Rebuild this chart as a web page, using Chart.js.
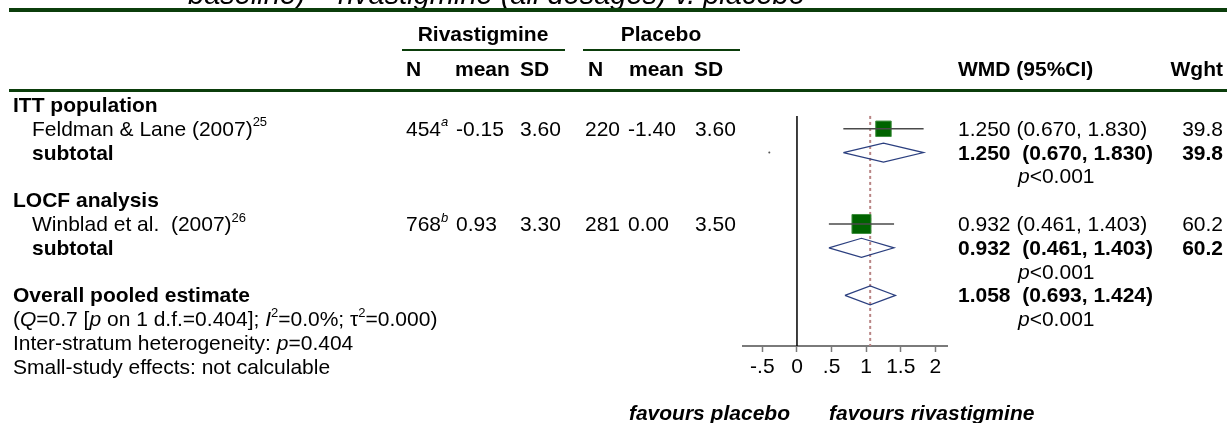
<!DOCTYPE html>
<html>
<head>
<meta charset="utf-8">
<script src="https://cdn.jsdelivr.net/npm/chart.js@4.4.1/dist/chart.umd.min.js"></script>
<style>
  html, body { margin: 0; padding: 0; background: #fff; }
  canvas { display: block; }
</style>
</head>
<body>
<canvas id="forestChart" width="1227" height="423"></canvas>
<script>
// --- data ---
const groups = ['ITT population', 'LOCF analysis'];
const studies = ['Feldman & Lane (2007)', 'Winblad et al.  (2007)'];
const studyRefs = ['25', '26'];
const rivN = ['454', '768'];
const rivNotes = ['a', 'b'];
const rivMean = ['-0.15', '0.93'];
const rivSD = ['3.60', '3.30'];
const plaN = ['220', '281'];
const plaMean = ['-1.40', '0.00'];
const plaSD = ['3.60', '3.50'];
const wmd = [1.250, 0.932];
const wmdLow = [0.670, 0.461];
const wmdHigh = [1.830, 1.403];
const weights = [39.8, 60.2];
const subWmd = [1.250, 0.932];
const subLow = [0.670, 0.461];
const subHigh = [1.830, 1.403];
const pooled = [1.058, 0.693, 1.424]; // estimate, low, high
const strayDot = [-0.40]; // tiny stray marker on the first subtotal row
const xTicks = [-0.5, 0, 0.5, 1, 1.5, 2];
const xTickLabels = ['-.5', '0', '.5', '1', '1.5', '2'];

// row layout (row index down the table)
const groupRows = [0, 4];
const studyRows = [1, 5];
const subRows = [2, 6];
const pRows = [3, 7];
const pooledRow = 8;

const FONT = "'Liberation Sans', Arial, sans-serif";
const FS = 21;
const GREEN = '#0b3d0b';

document.addEventListener('DOMContentLoaded', () => {
  const ctx = document.getElementById('forestChart').getContext('2d');

  const fontFor = (style, size) => {
    const px = style.includes('s') ? Math.round(size * 0.6) : size;
    return `${style.includes('i') ? 'italic ' : ''}${style.includes('b') ? 'bold ' : ''}${px}px ${FONT}`;
  };

  // runs: [[text, style]] style letters: b bold, i italic, s superscript
  const drawRuns = (c, x, y, runs, align = 'left', size = FS) => {
    const widths = runs.map(([t, st = '']) => { c.font = fontFor(st, size); return c.measureText(t).width; });
    const total = widths.reduce((a, b) => a + b, 0);
    let cx = align === 'right' ? x - total : align === 'center' ? x - total / 2 : x;
    runs.forEach(([t, st = ''], i) => {
      c.font = fontFor(st, size);
      c.fillText(t, cx, st.includes('s') ? y - size * 0.45 : y);
      cx += widths[i];
    });
  };

  const fmt = v => v.toFixed(3);
  const diamond = (est, lo, hi, row) => [
    { x: lo, y: row }, { x: est, y: row - 0.4 }, { x: hi, y: row },
    { x: est, y: row + 0.4 }, { x: lo, y: row }
  ];
  const lineSet = (data, color, width, dash = []) => ({
    data, showLine: true, borderColor: color, borderWidth: width, borderDash: dash,
    pointRadius: 0, pointHoverRadius: 0, fill: false
  });

  const tablePlugin = {
    id: 'tableText',
    afterDraw(chart) {
      const c = chart.ctx;
      const ys = chart.scales.y;
      const xs = chart.scales.x;
      const rowY = r => ys.getPixelForValue(r) + 7;
      c.save();
      c.fillStyle = '#000';
      c.textBaseline = 'alphabetic';

      // cut-off title and rules
      drawRuns(c, 188, 4, [['baseline) \u2013 rivastigmine (all dosages) v. placebo', 'i']], 'left', 29);
      c.fillStyle = GREEN;
      c.fillRect(9, 8, 1218, 4);
      c.fillRect(9, 89, 1218, 3);
      c.fillRect(402, 49, 163, 2);
      c.fillRect(583, 49, 157, 2);
      c.fillStyle = '#000';

      // headers
      const h1 = rowY(-3.0), h2 = rowY(-1.5);
      drawRuns(c, 483, h1, [['Rivastigmine', 'b']], 'center');
      drawRuns(c, 661, h1, [['Placebo', 'b']], 'center');
      const cols = [406, 455, 520, 588, 629, 694];
      ['N', 'mean', 'SD', 'N', 'mean', 'SD'].forEach((t, i) => drawRuns(c, cols[i], h2, [[t, 'b']]));
      drawRuns(c, 958, h2, [['WMD (95%CI)', 'b']]);
      drawRuns(c, 1223, h2, [['Wght', 'b']], 'right');

      // left labels and table values
      groupRows.forEach((r, i) => drawRuns(c, 13, rowY(r), [[groups[i], 'b']]));
      studyRows.forEach((r, i) => {
        drawRuns(c, 32, rowY(r), [[studies[i]], [studyRefs[i], 's']]);
        drawRuns(c, cols[0], rowY(r), [[rivN[i]], [rivNotes[i], 'si']]);
        drawRuns(c, 456, rowY(r), [[rivMean[i]]]);
        drawRuns(c, cols[2], rowY(r), [[rivSD[i]]]);
        drawRuns(c, 585, rowY(r), [[plaN[i]]]);
        drawRuns(c, 628, rowY(r), [[plaMean[i]]]);
        drawRuns(c, cols[5] + 1, rowY(r), [[plaSD[i]]]);
        drawRuns(c, 958, rowY(r), [[`${fmt(wmd[i])} (${fmt(wmdLow[i])}, ${fmt(wmdHigh[i])})`]]);
        drawRuns(c, 1223, rowY(r), [[weights[i].toFixed(1)]], 'right');
      });
      subRows.forEach((r, i) => {
        drawRuns(c, 32, rowY(r), [['subtotal', 'b']]);
        drawRuns(c, 958, rowY(r), [[`${fmt(subWmd[i])}  (${fmt(subLow[i])}, ${fmt(subHigh[i])})`, 'b']]);
        drawRuns(c, 1223, rowY(r), [[weights[i].toFixed(1), 'b']], 'right');
      });
      [...pRows, pooledRow + 1].forEach(r => drawRuns(c, 1018, rowY(r), [['p', 'i'], ['<0.001']]));
      drawRuns(c, 958, rowY(pooledRow), [[`${fmt(pooled[0])}  (${fmt(pooled[1])}, ${fmt(pooled[2])})`, 'b']]);

      drawRuns(c, 13, rowY(8), [['Overall pooled estimate', 'b']]);
      drawRuns(c, 13, rowY(9), [['('], ['Q', 'i'], ['=0.7 ['], ['p', 'i'], [' on 1 d.f.=0.404]; '],
        ['I', 'i'], ['2', 's'], ['=0.0%; \u03c4'], ['2', 's'], ['=0.000)']]);
      drawRuns(c, 13, rowY(10), [['Inter-stratum heterogeneity: '], ['p', 'i'], ['=0.404']]);
      drawRuns(c, 13, rowY(11), [['Small-study effects: not calculable']]);

      // favours labels under the axis
      const x0 = xs.getPixelForValue(0);
      drawRuns(c, x0 - 7, 420, [['favours placebo', 'bi']], 'right');
      drawRuns(c, x0 + 32, 420, [['favours rivastigmine', 'bi']]);
      c.restore();
    }
  };

  const boxSide = w => 2.45 * Math.sqrt(w);

  new Chart(ctx, {
    type: 'scatter',
    data: {
      datasets: [
        // CI lines of the studies
        ...studyRows.map((r, i) => lineSet([{ x: wmdLow[i], y: r }, { x: wmdHigh[i], y: r }], '#4a4a4a', 1.6)),
        // study boxes sized by weight
        {
          data: studyRows.map((r, i) => ({ x: wmd[i], y: r })),
          pointStyle: 'rect',
          pointRadius: studyRows.map((r, i) => boxSide(weights[i]) / Math.SQRT2),
          pointHoverRadius: studyRows.map((r, i) => boxSide(weights[i]) / Math.SQRT2),
          backgroundColor: '#006400',
          borderColor: '#3f8f3f',
          borderWidth: 1
        },
        // subtotal and pooled diamonds
        ...subRows.map((r, i) => lineSet(diamond(subWmd[i], subLow[i], subHigh[i], r), '#2b3f7f', 1.2)),
        lineSet(diamond(pooled[0], pooled[1], pooled[2], pooledRow), '#2b3f7f', 1.2),
        // stray dot
        {
          data: strayDot.map(v => ({ x: v, y: subRows[0] })),
          pointRadius: 1, pointHoverRadius: 1, backgroundColor: '#555', borderWidth: 0
        },
        // pooled reference line and zero line
        lineSet([{ x: pooled[0], y: 0.46 }, { x: pooled[0], y: 10.13 }], '#b88484', 2, [3, 3]),
        lineSet([{ x: 0, y: 0.46 }, { x: 0, y: 10.13 }], '#000', 1.5)
      ]
    },
    options: {
      responsive: false,
      animation: false,
      layout: { padding: { left: 743, right: 280, top: 95, bottom: 0 } },
      plugins: { legend: { display: false }, tooltip: { enabled: false } },
      scales: {
        x: {
          type: 'linear',
          min: -0.78,
          max: 2.168,
          afterBuildTicks: scale => { scale.ticks = xTicks.map(v => ({ value: v })); },
          afterFit: scale => { scale.height = 77; },
          ticks: {
            autoSkip: false,
            maxRotation: 0,
            padding: 3,
            color: '#000',
            font: { family: FONT, size: FS },
            callback: v => xTickLabels[xTicks.indexOf(v)]
          },
          grid: { display: true, drawOnChartArea: false, drawTicks: true, tickLength: 6, tickColor: '#7a7a7a', tickWidth: 1.5 },
          border: { display: true, color: '#7a7a7a', width: 2 }
        },
        y: { type: 'linear', display: false, reverse: true, min: -0.42, max: 10.126 }
      }
    },
    plugins: [tablePlugin]
  });
});
</script>
</body>
</html>
